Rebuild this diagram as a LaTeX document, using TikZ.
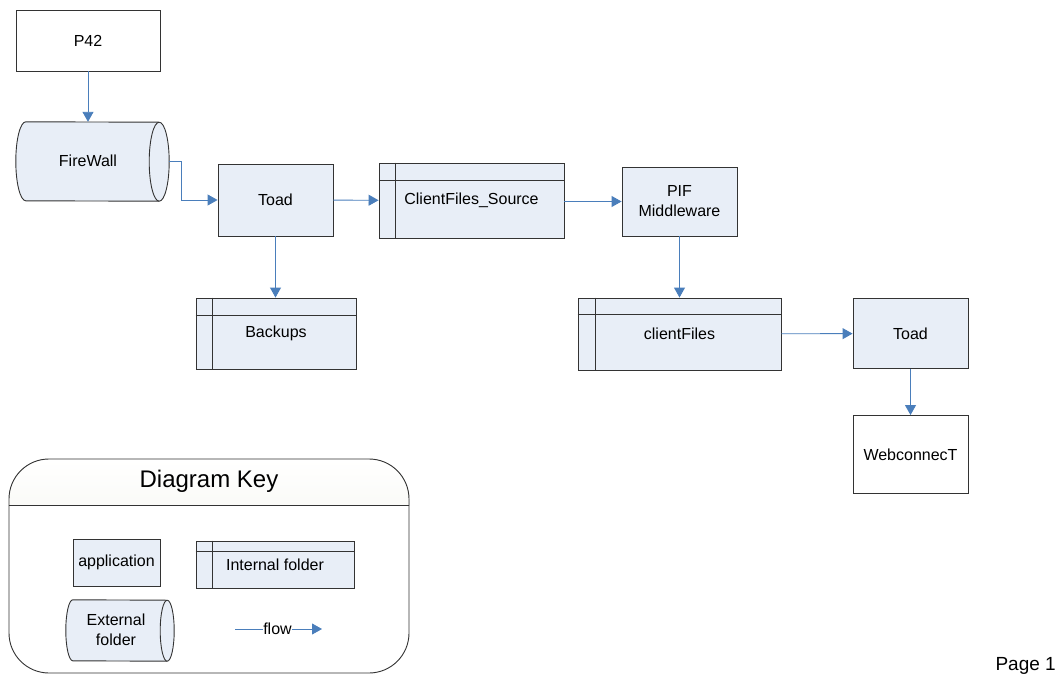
\documentclass[tikz,border=0pt]{standalone}
\usepackage{fontspec}
\setmainfont{Liberation Sans}
\usepackage{tikz}
\usetikzlibrary{arrows.meta}

\definecolor{appfill}{HTML}{E8EEF7}
\definecolor{flowblue}{HTML}{4A7EBB}
\definecolor{keyhead}{HTML}{EAEBDD}

% inner lines of an internal folder: node, x offset, y offset
\newcommand{\folderlines}[3]{%
  \draw[box line] ([xshift=#2]#1.north west) -- ([xshift=#2]#1.south west);
  \draw[box line] ([yshift=-#3]#1.north west) -- ([yshift=-#3]#1.north east);}

% outline of an external folder round a node: node, x radius, y radius
\newcommand{\extfolder}[3]{%
  \draw[box line,fill=appfill] (#1.north west)
    arc[start angle=90,end angle=270,x radius=#2,y radius=#3]
    -- (#1.south east)
    arc[start angle=-90,end angle=90,x radius=#2,y radius=#3] -- cycle;
  \draw[box line] (#1.south east)
    arc[start angle=270,end angle=90,x radius=#2,y radius=#3];}

\begin{document}
\begin{tikzpicture}[x=1pt,y=-1pt,>={Triangle[length=10pt,width=11pt]},
  box line/.style={draw=black!80,line width=0.9pt},
  main node/.style={box line,fill=appfill,inner sep=0pt,align=center,
    font=\fontsize{16}{20}\selectfont},
  plain node/.style={main node,fill=white},
  ext node/.style={inner sep=0pt,align=center,font=\fontsize{16}{20}\selectfont},
  flow/.style={->,draw=flowblue,line width=0.9pt}]

  \useasboundingbox (0,0) rectangle (1060,696);

  % flow chart
  \node[plain node,minimum width=144pt,minimum height=61pt] (p42) at (88,40.5) {P42};
  \node[ext node,minimum width=133pt,minimum height=79pt] (fw) at (92.5,161.5) {};
  \extfolder{fw}{10pt}{39.5pt}
  \node[ext node] (fwtext) at (88,161) {FireWall};
  \node[main node,minimum width=115pt,minimum height=72pt] (toad) at (275.5,200) {Toad};
  \node[main node,minimum width=185pt,minimum height=75pt] (src) at (471.5,200.5) {ClientFiles\_Source};
  \folderlines{src}{17pt}{18pt}
  \node[main node,minimum width=115pt,minimum height=69pt] (pif) at (679.5,201.5) {PIF\\Middleware};
  \node[main node,minimum width=160pt,minimum height=71pt] (bak) at (276,333.5) {Backups};
  \folderlines{bak}{17pt}{18pt}
  \node[main node,minimum width=203pt,minimum height=72pt] (cf) at (679.5,334) {clientFiles};
  \folderlines{cf}{18pt}{17pt}
  \node[main node,minimum width=115pt,minimum height=70pt] (toad2) at (910.5,333.5) {Toad};
  \node[plain node,minimum width=115pt,minimum height=78pt] (web) at (910.5,454.5) {WebconnecT};

  \path[every edge/.style={flow}]
  (p42.south) edge (p42.south |- fw.north)
  (toad) edge (src)
  (src.east |- pif) edge (pif.west)
  (toad.south) edge (toad.south |- bak.north)
  (pif.south) edge (pif.south |- cf.north)
  (cf) edge (toad2)
  (toad2) edge (web);
  \draw[flow] ([xshift=10pt]fw.east) -- ++(12pt,0) |- (toad.west);

  % diagram key
  \begin{scope}
    \clip (0,0) rectangle (1060,505);
    \fill[top color=white,bottom color=keyhead,rounded corners=40pt] (9,459) rectangle (409,673);
  \end{scope}
  \node[box line,rounded corners=40pt,minimum width=400pt,minimum height=214pt] (key) at (209,566) {};
  \draw[box line] (key.west |- 0,505) -- (key.east |- 0,505);
  \node[font=\fontsize{24}{28}\selectfont] (keytitle) at (209,481) {Diagram Key};

  \node[main node,minimum width=87pt,minimum height=47pt] (keyapp) at (116.5,562.5) {application};
  \node[main node,minimum width=158pt,minimum height=47pt] (keyint) at (275,564.5) {Internal folder};
  \folderlines{keyint}{17pt}{11pt}
  \node[ext node,minimum width=94pt,minimum height=61pt] (keyext) at (120,630.5) {};
  \extfolder{keyext}{7pt}{30.5pt}
  \node[ext node] (keyexttext) at (116,630) {External\\folder};

  \node[ext node] (keyflow) at (277.5,629) {flow};
  \coordinate (flowstart) at (235,629);
  \coordinate (flowend) at (322,629);
  \draw[draw=flowblue,line width=0.9pt] (flowstart) -- (keyflow.west);
  \draw[flow] (keyflow.east) -- (flowend);

  \node[anchor=west,font=\fontsize{19}{23}\selectfont] (page) at (992,666) {Page 1};
\end{tikzpicture}
\end{document}
